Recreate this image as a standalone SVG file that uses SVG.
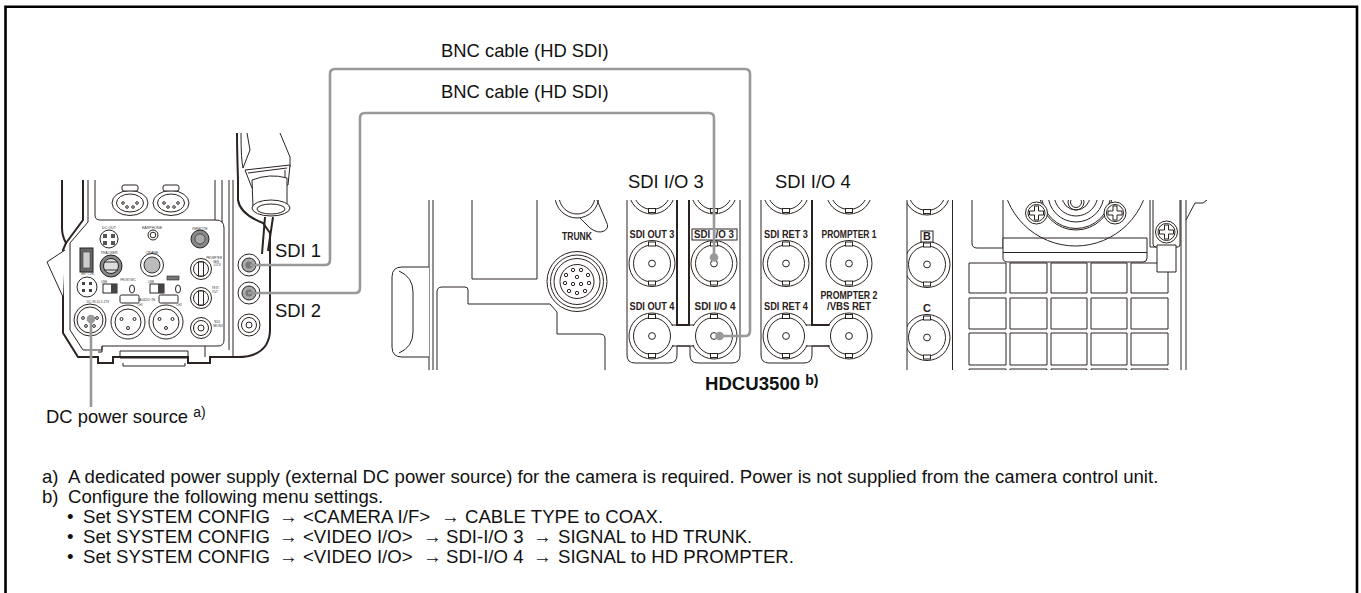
<svg xmlns="http://www.w3.org/2000/svg" xmlns:xlink="http://www.w3.org/1999/xlink" width="1361" height="593" viewBox="0 0 1361 593">
<style>
text{font-family:"Liberation Sans",Arial,sans-serif;fill:#111}
.l{font-size:18.4px}
.n{font-size:18.6px}
.b{font-size:11px;font-weight:bold;fill:#2a2020;text-anchor:middle}
.t{font-size:3.6px;fill:#333;text-anchor:middle}
.o{fill:none;stroke:#2b2320;stroke-width:1}
.w{fill:#fff;stroke:#2b2320;stroke-width:1}
.h{fill:none;stroke:#2b2320;stroke-width:2}
.g{fill:none;stroke:#999;stroke-width:2.6;stroke-linejoin:round}
.d{fill:#999}
</style>
<defs>
<clipPath id="p"><rect x="380" y="200" width="840" height="170"/></clipPath>
<clipPath id="q"><rect x="40" y="133" width="260" height="240"/></clipPath>
<g id="bnc">
<circle r="23" class="w"/><circle r="18.5" class="o"/>
<rect x="-3.5" y="-21.5" width="7" height="4" class="w"/><rect x="-3.5" y="17.5" width="7" height="4" class="w"/>
<circle r="3.4" class="o"/>
</g>
<g id="ccam"><circle r="10.5" class="w"/><circle r="7.5" class="o"/><rect x="-2.5" y="-7" width="5" height="14" class="w"/></g>
<g id="xlr"><circle r="17" class="w" stroke-width="1.4"/><circle r="13" class="o"/><circle cx="-6.5" cy="-3" r="1.5" class="o"/><circle cx="6.5" cy="-3" r="1.5" class="o"/><circle cy="6" r="1.5" class="o"/></g>
<g id="plus"><circle r="11" class="w"/><circle r="8.5" class="o"/><path d="M-2-7H2V-2H7V2H2V7H-2V2H-7V-2H-2Z" class="w"/></g>
<g id="cn4"><ellipse rx="18" ry="12.5" class="w" stroke-width="1.3"/><ellipse rx="13.5" ry="9" class="o"/><circle cx="-7" r="1.3" class="o"/><circle cx="7" r="1.3" class="o"/><circle cx="-3" cy="4" r="1.3" class="o"/><circle cx="3" cy="4" r="1.3" class="o"/><rect x="-8" y="-18" width="16" height="6" rx="2" class="w"/></g>
</defs>
<rect width="1361" height="593" fill="#fff"/>
<path d="M5.5 593V6.7H1357V593" fill="none" stroke="#000" stroke-width="2.6"/>

<g id="camera" clip-path="url(#q)">
<path class="h" d="M62 180V228Q62 236 66 243L63 250V333L78 357H98V363H113V357H123"/>
<path class="h" d="M83 180V220L66 243"/>
<path class="o" d="M88 180V222L70 243V330L83 350H102V346H218Q224 346 224 340V228Q224 220 216 220H100Q95 220 95 215V180"/>
<path class="o" d="M215 180V220M222 180V222M229 180V350M233 180V357"/>
<path class="w" d="M65 250L47 262L63 297"/>
<path class="h" d="M123 357H188V363H210V357H238Q258 357 266 345Q270 338 270 330V233L263 223Q240 214 238 200V180Q237 150 237 133"/>
<path class="o" d="M120 351H188V358H120ZM123 363V366H185V363M102 346V352H98M205 346V357"/>
<path class="o" d="M247 133L250 150L243 168M280 133L290 157V167M241 133Q241 160 243 168"/>
<path class="w" d="M245 170L290 165L288 185L252 188Z"/>
<path class="o" d="M248 173L287 168M285 170V183"/>
<path class="w" d="M252 180Q270 173 287 178V207Q270 216 253 207Z"/>
<ellipse cx="271" cy="208" rx="19" ry="8" class="w"/><ellipse cx="271" cy="209" rx="14" ry="5" class="o"/>
<path class="h" d="M265 217L262 254M273 217L268 251" stroke-width="1.4"/>
<use xlink:href="#cn4" href="#cn4" x="130" y="203"/><use xlink:href="#cn4" href="#cn4" x="171" y="203"/>
<circle cx="109" cy="239" r="9" class="w"/><path d="M103 234h4v4h-4zM111 234h4v4h-4zM103 241h4v4h-4zM111 241h4v4h-4z" fill="#555"/>
<circle cx="153" cy="235" r="5" class="w" stroke-width="1.3"/><circle cx="153" cy="235" r="2.8" class="o"/>
<circle cx="200" cy="239" r="9" fill="#888" stroke="#222" stroke-width="1"/><circle cx="200" cy="239" r="5" fill="#aaa" stroke="#333" stroke-width=".7"/>
<rect x="80" y="248" width="13" height="24" fill="#666" stroke="#222"/><rect x="83" y="252" width="7" height="16" fill="#ccc" stroke="#333" stroke-width=".5"/>
<circle cx="111" cy="266" r="11" fill="#888" stroke="#222"/><circle cx="111" cy="266" r="7.5" fill="#ddd" stroke="#222"/><path d="M104 262h14M104 270h14" stroke="#333" stroke-width="1.2"/>
<circle cx="152" cy="265" r="11.5" class="w"/><circle cx="152" cy="265" r="8" fill="#bbb" stroke="#333"/>
<use xlink:href="#ccam" href="#ccam" x="201" y="269"/><use xlink:href="#ccam" href="#ccam" x="201" y="298"/>
<circle cx="201" cy="328" r="10.5" class="w"/><circle cx="201" cy="328" r="7.5" class="o"/><circle cx="201" cy="328" r="3" class="o"/>
<circle cx="87" cy="287" r="10" class="w" stroke-width="1.3"/><path d="M82 282h3v3h-3zM89 282h3v3h-3zM82 289h3v3h-3zM89 289h3v3h-3z" fill="#444"/>
<rect x="103" y="284" width="14" height="9" class="w"/><rect x="111" y="284" width="6" height="9" fill="#444"/><rect x="150" y="284" width="14" height="9" class="w"/><rect x="158" y="284" width="6" height="9" fill="#444"/>
<ellipse cx="132" cy="289" rx="2.500" ry="4" class="o"/><ellipse cx="178" cy="289" rx="2.500" ry="4" class="o"/>
<rect x="167" y="276" width="12" height="4" fill="#777" stroke="#222" stroke-width=".6"/>
<circle cx="90" cy="320" r="16" class="w" stroke-width="1.3"/><circle cx="90" cy="320" r="13" class="o"/><circle cx="83" cy="318" r="1.4" class="o"/><circle cx="97" cy="318" r="1.4" class="o"/><circle cx="86" cy="326" r="1.4" class="o"/><circle cx="94" cy="326" r="1.4" class="o"/>
<use xlink:href="#xlr" href="#xlr" x="128" y="322"/><use xlink:href="#xlr" href="#xlr" x="166" y="322"/>
<rect x="120" y="295" width="19" height="8" rx="1.500" class="w"/><rect x="159" y="295" width="19" height="8" rx="1.500" class="w"/>
<circle cx="249" cy="265" r="11" class="w" stroke-width="1.3"/><circle cx="249" cy="265" r="7" fill="#aaa" stroke="#222"/><circle cx="249" cy="265" r="3.500" fill="#777"/>
<circle cx="249" cy="293" r="11" class="w" stroke-width="1.3"/><circle cx="249" cy="293" r="7" fill="#aaa" stroke="#222"/><circle cx="249" cy="293" r="3.500" fill="#777"/>
<circle cx="249" cy="325" r="11" class="w" stroke-width="1.3"/><circle cx="249" cy="325" r="7.500" class="o"/><circle cx="249" cy="325" r="3" class="o"/>
<text class="t" x="109" y="229">DC OUT</text><text class="t" x="152" y="229">EARPHONE</text><text class="t" x="200" y="230">REMOTE</text>
<text class="t" x="109" y="254">TRACKER</text><text class="t" x="152" y="254">CRANE</text>
<text class="t" x="222" y="259" style="font-size:2.8px;text-anchor:end">PROMPTER</text><text class="t" x="219" y="262.500" style="font-size:2.8px;text-anchor:end">GEN</text><text class="t" x="221" y="266" style="font-size:2.8px;text-anchor:end">LOCK</text>
<text class="t" x="219" y="289" style="font-size:2.8px;text-anchor:end">TEST</text><text class="t" x="218" y="292.500" style="font-size:2.8px;text-anchor:end">OUT</text>
<text class="t" x="217" y="323">SDI</text><text class="t" x="218" y="327">MONI</text>
<text class="t" x="88" y="275" style="font-size:2.8px">RET CTRL</text>
<text class="t" x="98" y="303" style="font-size:3.2px">DC IN 10.5-17V</text>
<text class="t" x="147" y="300.500">AUDIO IN</text><text class="t" x="140" y="305.500" style="font-size:2.8px">CH1</text><text class="t" x="179" y="305.500" style="font-size:2.8px">CH2</text>
<text class="t" x="128" y="281" style="font-size:2.8px">FRONT MIC</text>
<text class="t" x="104" y="283" style="font-size:2.8px">LINE</text><text class="t" x="151" y="283" style="font-size:2.8px">LINE</text>
</g>

<g id="trunk-panel" clip-path="url(#p)">
<path class="o" d="M429 200V370M433 200V370"/>
<path class="w" d="M429 267H402Q392 267 392 277V347Q392 357 402 357H429"/>
<path class="o" d="M399 271Q413 277 413 292V332Q413 347 399 353"/>
<path class="o" d="M472 200V279H537V200"/>
<path class="o" d="M437 370V292Q437 287 442 287H465Q468 287 468 290V304H550L557 312V334H600Q605 334 605 339V370"/>
<circle cx="577" cy="196" r="22" class="o"/><circle cx="577" cy="196" r="18" class="o"/>
<path class="o" d="M580 218L590 228Q598 234 604 231Q610 228 606 221L597 200"/>
<circle cx="577" cy="281.500" r="30" class="w"/><circle cx="577" cy="281.500" r="26.500" class="o"/><circle cx="577" cy="281.500" r="23" class="o"/><circle cx="577" cy="281.500" r="17" class="o"/>
<circle cx="573" cy="270" r="1.700" class="o"/><circle cx="581" cy="270" r="1.700" class="o"/><circle cx="566" cy="275" r="1.700" class="o"/><circle cx="577" cy="277" r="1.700" class="o"/><circle cx="588" cy="275" r="1.700" class="o"/><circle cx="565" cy="283" r="1.700" class="o"/><circle cx="573" cy="284" r="1.700" class="o"/><circle cx="581" cy="284" r="1.700" class="o"/><circle cx="589" cy="283" r="1.700" class="o"/><circle cx="569" cy="291" r="1.700" class="o"/><circle cx="577" cy="293" r="1.700" class="o"/><circle cx="585" cy="291" r="1.700" class="o"/>
<text class="b" x="577" y="240" textLength="30" lengthAdjust="spacingAndGlyphs">TRUNK</text>
</g>

<g id="panel-sdi-io" clip-path="url(#p)">
<path class="h" d="M677 200V325H690M689 200V325" stroke-width="1.6"/>
<path class="o" d="M627 200V355Q627 363 635 363H669Q677 363 677 355V346H690V355Q690 363 698 363H732Q740 363 740 355V200"/>
<use xlink:href="#bnc" href="#bnc" x="652" y="191"/><use xlink:href="#bnc" href="#bnc" x="714" y="191"/>
<use xlink:href="#bnc" href="#bnc" x="652" y="263.500"/><use xlink:href="#bnc" href="#bnc" x="714" y="263.500"/>
<use xlink:href="#bnc" href="#bnc" x="652" y="336"/><use xlink:href="#bnc" href="#bnc" x="714" y="336"/>
<path style="fill:#fff;stroke:none" d="M672 326H694V345H672Z"/>
<path class="o" d="M672 325H694M672 346H694"/>
<text class="b" x="652" y="238" textLength="45" lengthAdjust="spacingAndGlyphs">SDI OUT 3</text>
<text class="b" x="652" y="310" textLength="45" lengthAdjust="spacingAndGlyphs">SDI OUT 4</text>
<rect x="692" y="229" width="45" height="11" class="w"/>
<text class="b" x="714" y="238" textLength="40" lengthAdjust="spacingAndGlyphs">SDI I/O 3</text>
<text class="b" x="715" y="310" textLength="41" lengthAdjust="spacingAndGlyphs">SDI I/O 4</text>
</g>

<g id="panel-sdi-ret" clip-path="url(#p)">
<path class="o" d="M761 200V355Q761 363 769 363H804Q812 363 812 355V346H832"/>
<path class="h" d="M812 200V325H830" stroke-width="1.6"/>
<use xlink:href="#bnc" href="#bnc" x="786" y="191"/><use xlink:href="#bnc" href="#bnc" x="849" y="191"/>
<use xlink:href="#bnc" href="#bnc" x="786" y="263.500"/><use xlink:href="#bnc" href="#bnc" x="849" y="263.500"/>
<use xlink:href="#bnc" href="#bnc" x="786" y="336"/><use xlink:href="#bnc" href="#bnc" x="849" y="336"/>
<path style="fill:#fff;stroke:none" d="M806 326H830V345H806Z"/>
<path class="o" d="M806 325H830M806 346H830"/>
<text class="b" x="786" y="238" textLength="44" lengthAdjust="spacingAndGlyphs">SDI RET 3</text>
<text class="b" x="849" y="238" textLength="55" lengthAdjust="spacingAndGlyphs">PROMPTER 1</text>
<text class="b" x="786" y="310" textLength="44" lengthAdjust="spacingAndGlyphs">SDI RET 4</text>
<text class="b" x="849" y="299" textLength="57" lengthAdjust="spacingAndGlyphs">PROMPTER 2</text>
<text class="b" x="849" y="310" textLength="44" lengthAdjust="spacingAndGlyphs">/VBS RET</text>
</g>

<g id="panel-bc" clip-path="url(#p)">
<use xlink:href="#bnc" href="#bnc" x="927" y="192"/><use xlink:href="#bnc" href="#bnc" x="927" y="264.500"/><use xlink:href="#bnc" href="#bnc" x="927" y="337.500"/>
<path style="fill:#fff;stroke:none" d="M900 200H907V370H900ZM952 200H958V370H952Z"/>
<path class="o" d="M907 200V370M952.500 200V370"/>
<rect x="921" y="231" width="12" height="11" class="w"/>
<text class="b" x="927" y="240">B</text><text class="b" x="927" y="312">C</text>
</g>

<g id="panel-right" clip-path="url(#p)">
<g id="grid">
<path class="o" d="M969 263H1006V293H969ZM1010 263H1047V293H1010ZM1051 263H1087V293H1051ZM1091 263H1127V293H1091ZM1131 263H1168V293H1131Z"/>
<path class="o" d="M969 298H1006V329H969ZM1010 298H1047V329H1010ZM1051 298H1087V329H1051ZM1091 298H1127V329H1091ZM1131 298H1168V329H1131Z"/>
<path class="o" d="M969 333H1006V365H969ZM1010 333H1047V365H1010ZM1051 333H1087V365H1051ZM1091 333H1127V365H1091ZM1131 333H1168V365H1131Z"/>
<path class="o" d="M969 370V369H1006V370M1010 370V369H1047V370M1051 370V369H1087V370M1091 370V369H1127V370M1131 370V369H1168V370"/>
</g>
<path class="o" d="M972 200V243Q972 248 977 248H1003V200"/>
<path class="w" d="M1003 238H1147V258Q1147 262 1143 262H1008Q1003 262 1003 258Z"/>
<path class="o" d="M1003 252.500H1147"/>
<circle cx="1075.500" cy="172.700" r="73.300" class="o"/>
<circle cx="1076" cy="194" r="36" class="o"/><circle cx="1076" cy="194" r="34.500" class="o"/><circle cx="1076" cy="194" r="28" class="o"/><circle cx="1076" cy="194" r="22" class="o"/><circle cx="1076" cy="196" r="14" class="o"/><circle cx="1076" cy="202" r="8" class="o"/><circle cx="1076" cy="202" r="5.500" class="o"/>
<use xlink:href="#plus" href="#plus" x="1036.500" y="213"/><use xlink:href="#plus" href="#plus" x="1115" y="213"/>
<path class="o" d="M1150 200V247H1157M1153 200V244Q1153 247 1156 247M1176 247H1178Q1180 247 1180 244V200"/>
<path class="w" d="M1157 245H1176V272H1157Z"/>
<use xlink:href="#plus" href="#plus" x="1166.500" y="232"/>
<path class="o" d="M1181 200V370M1186 200V370M1186 220L1195 203H1203L1207 200"/>
</g>

<g id="connectors">
<path class="g" d="M250 265H325Q330 265 330 260V74Q330 69 335 69H745Q750 69 750 74V331Q750 336 745 336H720"/>
<path class="g" d="M248 293H355Q360 293 360 288V118Q360 113 365 113H709Q714 113 714 118V257"/>
<path class="g" d="M91 320V407"/>
<circle class="d" cx="714" cy="257.500" r="4.300"/><circle class="d" cx="719.500" cy="336" r="4.300"/><circle class="d" cx="91" cy="319" r="4.300"/>
</g>

<g id="labels">
<text class="l" x="441" y="57">BNC cable (HD SDI)</text>
<text class="l" x="441" y="98">BNC cable (HD SDI)</text>
<text class="l" x="275" y="257">SDI 1</text>
<text class="l" x="275" y="317">SDI 2</text>
<text class="l" x="628" y="188">SDI I/O 3</text>
<text class="l" x="775" y="188">SDI I/O 4</text>
<text x="705" y="390" style="font-size:18.600px;font-weight:bold">HDCU3500 <tspan dy="-5" font-size="14">b)</tspan></text>
<text class="l" x="46" y="423">DC power source <tspan dy="-6" font-size="14">a)</tspan></text>
</g>

<g id="notes">
<text class="n" y="483"><tspan x="42">a)</tspan><tspan x="68">A dedicated power supply (external DC power source) for the camera is required. Power is not supplied from the camera control unit.</tspan></text>
<text class="n" y="503"><tspan x="42">b)</tspan><tspan x="68">Configure the following menu settings.</tspan></text>
<text class="n" y="523"><tspan x="67">•</tspan><tspan x="83">Set SYSTEM CONFIG</tspan><tspan x="279">→</tspan><tspan x="303">&lt;CAMERA I/F&gt;</tspan><tspan x="441">→</tspan><tspan x="465">CABLE TYPE to COAX.</tspan></text>
<text class="n" y="543"><tspan x="67">•</tspan><tspan x="83">Set SYSTEM CONFIG</tspan><tspan x="279">→</tspan><tspan x="303">&lt;VIDEO I/O&gt;</tspan><tspan x="423">→</tspan><tspan x="446">SDI-I/O 3</tspan><tspan x="533">→</tspan><tspan x="558">SIGNAL to HD TRUNK.</tspan></text>
<text class="n" y="563"><tspan x="67">•</tspan><tspan x="83">Set SYSTEM CONFIG</tspan><tspan x="279">→</tspan><tspan x="303">&lt;VIDEO I/O&gt;</tspan><tspan x="423">→</tspan><tspan x="446">SDI-I/O 4</tspan><tspan x="533">→</tspan><tspan x="558">SIGNAL to HD PROMPTER.</tspan></text>
</g>
</svg>
